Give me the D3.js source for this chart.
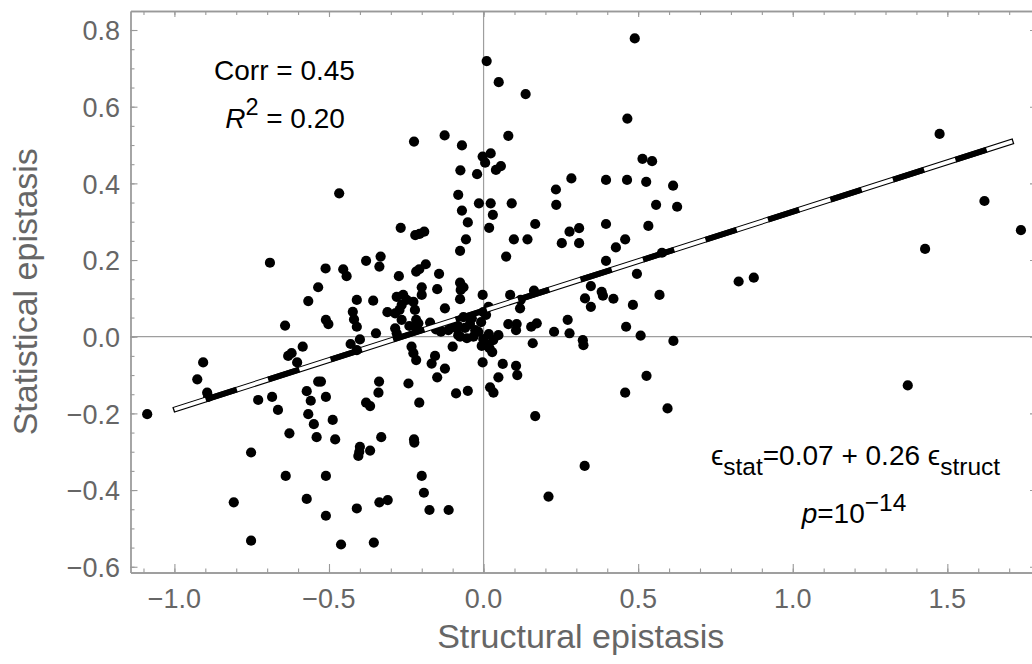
<!DOCTYPE html>
<html>
<head>
<meta charset="utf-8">
<script src="https://cdn.jsdelivr.net/npm/d3@7"></script>
<style>
  body { margin: 0; background: #fff; }
  svg { display: block; font-family: "Liberation Sans", Arial, sans-serif; }
</style>
</head>
<body>
<div id="chart"></div>
<script>
// structural epistasis (x) / statistical epistasis (y)
const structEps = [
  0.489, 0.136, 0.465, 0.080, 1.475, 0.514, 0.545, 0.284, 0.234, 0.396, 0.464, 0.526, 0.613, 1.620,
  0.010, 0.049, -0.225, -0.126, -0.070, -0.003, 0.023, 0.005, -0.075, -0.021, 0.040, 0.056, -0.467, -0.082,
  -0.015, 0.023, 0.030, 0.091, 0.235, -0.070, -0.051, 0.018, -0.268, -0.221, -0.192, -0.207, 0.167, 0.278,
  0.309, 0.396, 0.458, 0.428, -0.057, -0.076, 0.098, 0.142, 0.253, 0.309, 0.073, 0.396, -0.380, -0.333,
  -0.337, -0.454, -0.443, -0.274, -0.218, -0.208, -0.187, -0.144, -0.200, -0.200, -0.150, -0.076, -0.065, -0.074,
  -0.076, -0.003, 0.086, 0.163, 0.120, 0.118, 0.347, 0.328, 0.347, 0.382, 0.386, 0.420, -0.410, -0.357,
  -0.423, -0.419, -0.410, -0.311, -0.125, -0.348, -0.400, -0.430, -0.410, -0.233, -0.227, -0.218, -0.157, -0.168,
  -0.125, -0.150, -0.100, -0.003, 0.019, 0.048, 0.062, 0.105, 0.109, 0.048, 0.080, 0.107, 0.105, 0.154,
  0.172, 0.159, 0.228, 0.272, 0.278, 0.321, 0.323, 0.461, -0.338, -0.340, -0.243, -0.089, -0.051, 0.021,
  0.032, 0.458, -0.380, -0.367, -0.208, -0.488, 0.167, -0.480, -0.331, -0.400, -0.402, -0.405, -0.367, -0.225,
  -0.224, -0.200, -0.193, 0.327, 0.210, -0.410, -0.337, -0.310, -0.175, -0.113, -0.461, -0.355, -0.567, -0.642,
  -0.510, -0.502, -0.585, -0.632, -0.621, -0.603, -0.907, -0.926, -0.894, -0.891, -0.535, -0.526, -0.572, -0.559,
  -0.510, -0.729, -0.684, -0.665, -1.088, -0.567, -0.549, -0.628, -0.540, -0.752, -0.640, -0.510, -0.808, -0.572,
  -0.510, -0.752, -0.691, -0.511, -0.535, 0.558, 0.626, 0.533, 0.577, 0.496, 0.483, 0.569, 0.825, 0.874,
  0.508, 0.614, 0.527, 0.595, 1.738, 1.428, 1.372,
  -0.281, -0.260, -0.249, -0.265, -0.272, -0.286, -0.227, -0.222, -0.265, -0.218, -0.216, -0.240, -0.281, -0.286, -0.211,
  -0.173, -0.141, -0.114, -0.103, -0.082, -0.138, -0.154, -0.087, -0.082,
  -0.065, -0.038, -0.044, -0.060, -0.027, -0.008, -0.001, 0.016, 0.008, -0.076, -0.054, -0.033, -0.017, -0.001,
  0.017, -0.006, 0.008, 0.031, 0.028
];
const statEps = [
  0.778, 0.633, 0.569, 0.524, 0.529, 0.464, 0.458, 0.413, 0.384, 0.409, 0.409, 0.404, 0.394, 0.354,
  0.719, 0.664, 0.509, 0.525, 0.499, 0.470, 0.478, 0.454, 0.434, 0.424, 0.435, 0.445, 0.374, 0.370,
  0.348, 0.348, 0.318, 0.348, 0.344, 0.329, 0.298, 0.284, 0.284, 0.265, 0.274, 0.268, 0.294, 0.274,
  0.283, 0.294, 0.254, 0.233, 0.254, 0.224, 0.254, 0.254, 0.244, 0.244, 0.209, 0.198, 0.198, 0.209,
  0.183, 0.176, 0.158, 0.158, 0.170, 0.176, 0.189, 0.164, 0.129, 0.109, 0.124, 0.141, 0.129, 0.122,
  0.098, 0.109, 0.109, 0.120, 0.096, 0.074, 0.132, 0.100, 0.078, 0.117, 0.107, 0.099, 0.096, 0.094,
  0.065, 0.045, 0.026, 0.064, 0.074, 0.009, -0.007, -0.019, -0.035, -0.026, -0.043, -0.061, -0.050, -0.070,
  -0.083, -0.106, -0.026, -0.067, -0.030, 0.004, -0.071, -0.076, -0.100, -0.106, 0.033, 0.033, 0.017, 0.026,
  0.035, -0.017, 0.013, 0.044, 0.009, -0.009, -0.022, 0.026, -0.117, -0.146, -0.122, -0.148, -0.141, -0.132,
  -0.146, -0.146, -0.172, -0.181, -0.172, -0.217, -0.207, -0.268, -0.262, -0.287, -0.300, -0.311, -0.297, -0.268,
  -0.276, -0.363, -0.407, -0.337, -0.417, -0.448, -0.432, -0.426, -0.452, -0.452, -0.542, -0.537, 0.093, 0.029,
  0.044, 0.033, -0.026, -0.050, -0.043, -0.067, -0.067, -0.111, -0.146, -0.157, -0.117, -0.117, -0.142, -0.167,
  -0.157, -0.165, -0.157, -0.191, -0.202, -0.202, -0.228, -0.252, -0.262, -0.302, -0.363, -0.363, -0.432, -0.423,
  -0.467, -0.532, 0.193, 0.178, 0.129, 0.344, 0.339, 0.289, 0.219, 0.164, 0.083, 0.109, 0.144, 0.154,
  0.003, -0.011, -0.102, -0.187, 0.278, 0.229, -0.127,
  0.104, 0.109, 0.096, 0.083, 0.070, 0.061, 0.091, 0.070, 0.044, 0.044, 0.022, 0.028, 0.009, 0.022, 0.035,
  0.037, 0.017, 0.017, 0.031, 0.028, 0.013, 0.019, 0.022, 0.004,
  0.051, 0.048, 0.033, 0.023, 0.017, 0.038, 0.064, 0.078, 0.057, 0.000, -0.004, 0.000, 0.013, -0.006,
  0.007, -0.024, -0.019, -0.009, -0.040
];

const xTicks = [-1.0, -0.5, 0.0, 0.5, 1.0, 1.5];
const yTicks = [-0.6, -0.4, -0.2, 0.0, 0.2, 0.4, 0.6, 0.8];

// least squares line as drawn in the figure
const fitIntercept = 0.068;
const fitSlope = 0.258;
const fitRange = [-1.0, 1.71];

class EpistasisScatter {
    constructor(_config, _data) {
        this.config = {
            parentElement: _config.parentElement,
            containerWidth: _config.containerWidth || 1032,
            containerHeight: _config.containerHeight || 664,
            margin: _config.margin || { top: 11, right: -5, bottom: 91.5, left: 130.5 }
        };
        this.data = _data;
        this.initVis();
    }

    initVis() {
        let vis = this;
        const m = vis.config.margin;
        vis.width = vis.config.containerWidth - m.left - m.right;
        vis.height = vis.config.containerHeight - m.top - m.bottom;

        vis.xScale = d3.scaleLinear().domain([-1.142, 1.79]).range([0, vis.width]);
        vis.yScale = d3.scaleLinear().domain([-0.615, 0.8496]).range([vis.height, 0]);

        vis.svg = d3.select(vis.config.parentElement)
            .append('svg')
            .attr('width', vis.config.containerWidth)
            .attr('height', vis.config.containerHeight);

        vis.chart = vis.svg.append('g')
            .attr('transform', `translate(${m.left},${m.top})`);

        vis.renderVis();
    }

    renderVis() {
        let vis = this;
        const fmt = d3.format('.1f');
        const frameColor = '#999';
        const labelColor = '#666';

        // zero lines
        vis.chart.append('line')
            .attr('x1', vis.xScale(0)).attr('x2', vis.xScale(0))
            .attr('y1', 0).attr('y2', vis.height)
            .attr('stroke', '#9e9e9e').attr('stroke-width', 1.2);
        vis.chart.append('line')
            .attr('x1', 0).attr('x2', vis.width)
            .attr('y1', vis.yScale(0)).attr('y2', vis.yScale(0))
            .attr('stroke', '#9e9e9e').attr('stroke-width', 1.2);

        // frame with inward ticks on all four sides
        const xMinorVals = d3.range(-11, 18).map(d => d / 10);
        const yMinorVals = d3.range(-12, 17).map(d => d / 20);
        const axes = [
            [d3.axisBottom(vis.xScale).tickValues(xMinorVals).tickSize(-4), `translate(0,${vis.height})`],
            [d3.axisBottom(vis.xScale).tickValues(xTicks).tickSize(-8.5), `translate(0,${vis.height})`],
            [d3.axisTop(vis.xScale).tickValues(xMinorVals).tickSize(-4), 'translate(0,0)'],
            [d3.axisTop(vis.xScale).tickValues(xTicks).tickSize(-6), 'translate(0,0)'],
            [d3.axisLeft(vis.yScale).tickValues(yMinorVals).tickSize(-4), 'translate(0,0)'],
            [d3.axisLeft(vis.yScale).tickValues(yTicks).tickSize(-7), 'translate(0,0)'],
            [d3.axisRight(vis.yScale).tickValues(yMinorVals).tickSize(-4), `translate(${vis.width},0)`],
            [d3.axisRight(vis.yScale).tickValues(yTicks).tickSize(-7), `translate(${vis.width},0)`]
        ];
        axes.forEach(([ax, tr]) => {
            const g = vis.chart.append('g').attr('transform', tr)
                .call(ax.tickSizeOuter(0).tickFormat(''));
            g.selectAll('line').attr('stroke', frameColor).attr('stroke-width', 1.1);
            g.select('.domain').attr('stroke', frameColor).attr('stroke-width', 1.3);
        });

        // tick labels
        vis.chart.append('g').selectAll('text')
            .data(xTicks)
            .join('text')
            .attr('x', d => vis.xScale(d))
            .attr('y', vis.height + 35.5)
            .attr('text-anchor', 'middle')
            .attr('font-size', 27)
            .attr('fill', labelColor)
            .text(d => fmt(d));

        vis.chart.append('g').selectAll('text')
            .data(yTicks)
            .join('text')
            .attr('x', -10.5)
            .attr('y', d => vis.yScale(d))
            .attr('dy', '0.38em')
            .attr('text-anchor', 'end')
            .attr('font-size', 27)
            .attr('fill', labelColor)
            .text(d => fmt(d));

        // axis titles
        vis.chart.append('text')
            .attr('x', vis.width / 2 - 3)
            .attr('y', 648 - vis.config.margin.top)
            .attr('text-anchor', 'middle')
            .attr('font-size', 34)
            .attr('fill', labelColor)
            .text('Structural epistasis');

        vis.chart.append('text')
            .attr('transform', `translate(${37 - vis.config.margin.left},${vis.height / 2}) rotate(-90)`)
            .attr('text-anchor', 'middle')
            .attr('font-size', 34)
            .attr('fill', labelColor)
            .text('Statistical epistasis');

        // points
        const points = d3.zip(structEps, statEps);
        vis.chart.append('g')
            .selectAll('circle')
            .data(points)
            .join('circle')
            .attr('cx', d => vis.xScale(d[0]))
            .attr('cy', d => vis.yScale(d[1]))
            .attr('r', 5.1)
            .attr('fill', '#000');

        // fit line: white core with black outline, black dashes on top
        const fitLine = d3.line()
            .x(d => vis.xScale(d))
            .y(d => vis.yScale(fitIntercept + fitSlope * d));
        vis.chart.append('path')
            .attr('d', fitLine([fitRange[0] - 0.004, fitRange[1] + 0.004]))
            .attr('fill', 'none').attr('stroke', '#000').attr('stroke-width', 5.8);
        vis.chart.append('path')
            .attr('d', fitLine(fitRange))
            .attr('fill', 'none').attr('stroke', '#fff').attr('stroke-width', 3.8);
        vis.chart.append('path')
            .attr('d', fitLine(fitRange))
            .attr('fill', 'none').attr('stroke', '#000').attr('stroke-width', 5.8)
            .attr('stroke-dasharray', '32.8 32.8')
            .attr('stroke-dashoffset', 32.8);

        // annotations
        const note = (x, y, parts) => {
            const t = vis.svg.append('text')
                .attr('x', x).attr('y', y)
                .attr('text-anchor', 'middle')
                .attr('fill', '#000');
            parts.forEach(p => {
                t.append('tspan')
                    .attr('font-size', p.size || 28)
                    .attr('dy', p.dy || 0)
                    .attr('font-style', p.italic ? 'italic' : null)
                    .text(p.t);
            });
        };
        note(284.5, 80, [{ t: 'Corr = 0.45' }]);
        note(285, 128, [{ t: 'R', italic: true }, { t: '2', size: 23.5, dy: -13 }, { t: ' = 0.20', dy: 13 }]);
        note(855.5, 465, [
            { t: 'ϵ' }, { t: 'stat', size: 24.5, dy: 10 }, { t: '=0.07 + 0.26 ', dy: -10 },
            { t: 'ϵ' }, { t: 'struct', size: 24.5, dy: 10 }
        ]);
        note(854, 523, [{ t: 'p', italic: true }, { t: '=10' }, { t: '\u221214', size: 24.5, dy: -12 }]);
    }
}

new EpistasisScatter({ parentElement: '#chart' }, { structEps, statEps });
</script>
</body>
</html>
